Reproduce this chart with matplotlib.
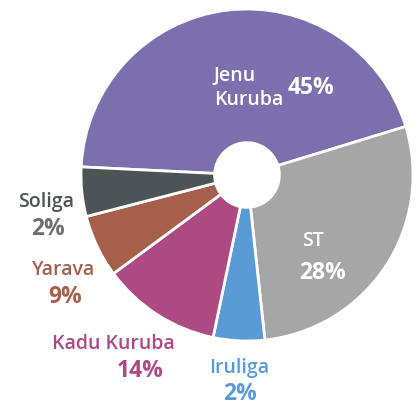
import matplotlib
matplotlib.use("Agg")
import matplotlib.pyplot as plt

# slice sizes as drawn (degrees, in percent)
groups = ["Jenu Kuruba", "ST", "Iruliga", "Kadu Kuruba", "Yarava", "Soliga"]
shares = [44.5, 28.0, 5.0, 11.6, 6.1, 4.8]
pct_labels = ["45%", "28%", "2%", "14%", "9%", "2%"]
colors = ["#7b6fae", "#a6a6a6", "#5b9bd5", "#ad4a82", "#a65f4a", "#4d5456"]

W, H = 419, 406
plt.rcParams['font.family'] = ['Open Sans', 'DejaVu Sans']

fig = plt.figure(figsize=(W / 100, H / 100), dpi=100)
ax = fig.add_axes([0, 0, 1, 1])

cx, cy, r = 247, H - 176, 166
ax.pie(shares, colors=colors, startangle=177.2, counterclock=False,
       center=(cx, cy), radius=r, frame=True,
       wedgeprops=dict(width=r * 0.805, edgecolor="white", linewidth=2))
ax.set_xlim(0, W)
ax.set_ylim(0, H)
ax.set_aspect("equal")
ax.axis("off")


def txt(x, y, s, **kw):
    ax.text(x, H - y, s, va="baseline", **kw)


name_fs, pct_fs = 14, 16.5
nw = "semibold"
# inside labels
txt(214, 81, "Jenu", color="white", fontsize=name_fs, ha="left", fontweight=nw)
txt(214, 105, "Kuruba", color="white", fontsize=name_fs, ha="left", fontweight=nw)
txt(288, 94, pct_labels[0], color="white", fontsize=pct_fs, ha="left", fontweight="bold")
txt(302, 246, groups[1], color="white", fontsize=name_fs, ha="left", fontweight=nw)
txt(299, 279, pct_labels[1], color="white", fontsize=pct_fs, ha="left", fontweight="bold")

# outside labels
txt(239, 373, groups[2], color=colors[2], fontsize=name_fs, ha="center", fontweight=nw)
txt(240, 400, pct_labels[2], color=colors[2], fontsize=pct_fs, ha="center", fontweight="bold")
txt(113, 349, groups[3], color=colors[3], fontsize=name_fs, ha="center", fontweight=nw)
txt(140, 377, pct_labels[3], color=colors[3], fontsize=pct_fs, ha="center", fontweight="bold")
txt(64, 275, groups[4], color=colors[4], fontsize=name_fs, ha="center", fontweight=nw)
txt(65.5, 303, pct_labels[4], color=colors[4], fontsize=pct_fs, ha="center", fontweight="bold")
txt(46.5, 207, groups[5], color=colors[5], fontsize=name_fs, ha="center", fontweight=nw)
txt(48.5, 235, pct_labels[5], color="#6e6e6e", fontsize=pct_fs, ha="center", fontweight="bold")

fig.savefig("out.png", dpi=100)
